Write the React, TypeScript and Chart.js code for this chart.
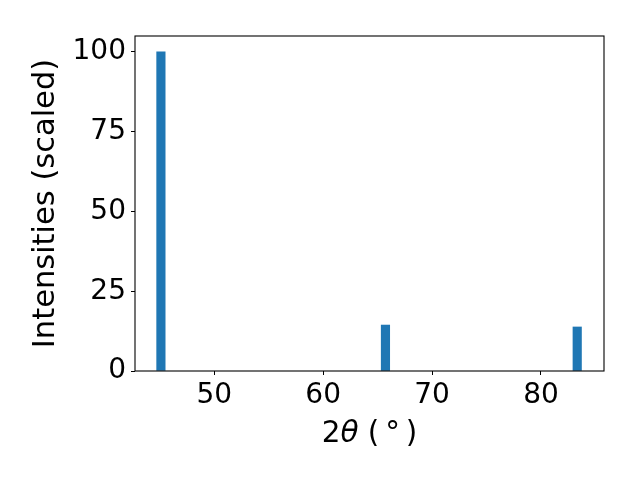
import React, { useEffect, useRef } from "react";
import { Chart, registerables } from "chart.js";

Chart.register(...registerables);

const twoTheta = [45.1, 65.72, 83.33];
const intensities = [100, 14.4, 13.8];
const xTicks = [50, 60, 70, 80];
const yTicks = [0, 25, 50, 75, 100];
const yLabel = "Intensities (scaled)";
const xLabelParts = [
  { text: "2", italic: false },
  { text: "θ", italic: true },
  { text: " (\u2009°\u2009)", italic: false },
];

const FONT = "'DejaVu Sans', sans-serif";
const FS = 28;
const LFS = 30.5;
const XLFS = 29.5;

const framePlugin = {
  id: "frame",
  afterDraw(chart: any) {
    const { ctx, chartArea } = chart;
    ctx.save();
    ctx.strokeStyle = "#000";
    ctx.lineWidth = 1.1;
    ctx.strokeRect(chartArea.left, chartArea.top, chartArea.right - chartArea.left, chartArea.bottom - chartArea.top);
    // x-axis title with italic theta
    let total = 0;
    const widths: number[] = [];
    for (const p of xLabelParts) {
      ctx.font = `${p.italic ? "italic " : ""}${XLFS}px ${FONT}`;
      const w = ctx.measureText(p.text).width;
      widths.push(w);
      total += w;
    }
    let x = (chartArea.left + chartArea.right) / 2 - total / 2;
    const y = 442;
    ctx.fillStyle = "#000";
    ctx.textBaseline = "alphabetic";
    ctx.textAlign = "left";
    xLabelParts.forEach((p, i) => {
      ctx.font = `${p.italic ? "italic " : ""}${XLFS}px ${FONT}`;
      ctx.fillText(p.text, x, y);
      x += widths[i];
    });
    ctx.restore();
  },
};

export default function App() {
  const ref = useRef<HTMLCanvasElement>(null);
  useEffect(() => {
    if (!ref.current) return;
    const chart = new Chart(ref.current, {
      type: "bar",
      data: {
        datasets: [
          {
            data: twoTheta.map((t, i) => ({ x: t, y: intensities[i] })),
            backgroundColor: "#1f77b4",
            borderWidth: 0,
            barThickness: 8.5,
          },
        ],
      },
      options: {
        animation: false,
        responsive: true,
        maintainAspectRatio: false,
        layout: { padding: { left: 0, right: 36, top: 36, bottom: 0 } },
        plugins: { legend: { display: false }, tooltip: { enabled: false } },
        scales: {
          x: {
            type: "linear",
            min: 42.72,
            max: 85.79,
            offset: false,
            grid: { offset: false, drawOnChartArea: false, drawTicks: true, tickLength: 4, color: "#000" },
            border: { display: false },
            afterBuildTicks: (s: any) => {
              s.ticks = xTicks.map((v) => ({ value: v }));
            },
            afterFit: (s: any) => {
              s.height = 109;
            },
            ticks: {
              color: "#000",
              font: { family: FONT, size: FS },
              padding: 4,
              maxRotation: 0,
              autoSkip: false,
            },
          },
          y: {
            type: "linear",
            min: 0,
            max: 105,
            grid: { drawOnChartArea: false, drawTicks: true, tickLength: 4, color: "#000" },
            border: { display: false },
            afterBuildTicks: (s: any) => {
              s.ticks = yTicks.map((v) => ({ value: v }));
            },
            afterFit: (s: any) => {
              s.width = 135;
            },
            ticks: {
              color: "#000",
              font: { family: FONT, size: FS },
              padding: 5,
              autoSkip: false,
            },
            title: {
              display: true,
              text: yLabel,
              color: "#000",
              font: { family: FONT, size: LFS },
              padding: { top: 28, bottom: 0 },
            },
          },
        },
      },
      plugins: [framePlugin],
    });
    return () => chart.destroy();
  }, []);
  return (
    <div style={{ position: "fixed", left: 0, top: 0, width: 640, height: 480, background: "#fff" }}>
      <canvas ref={ref} />
    </div>
  );
}
